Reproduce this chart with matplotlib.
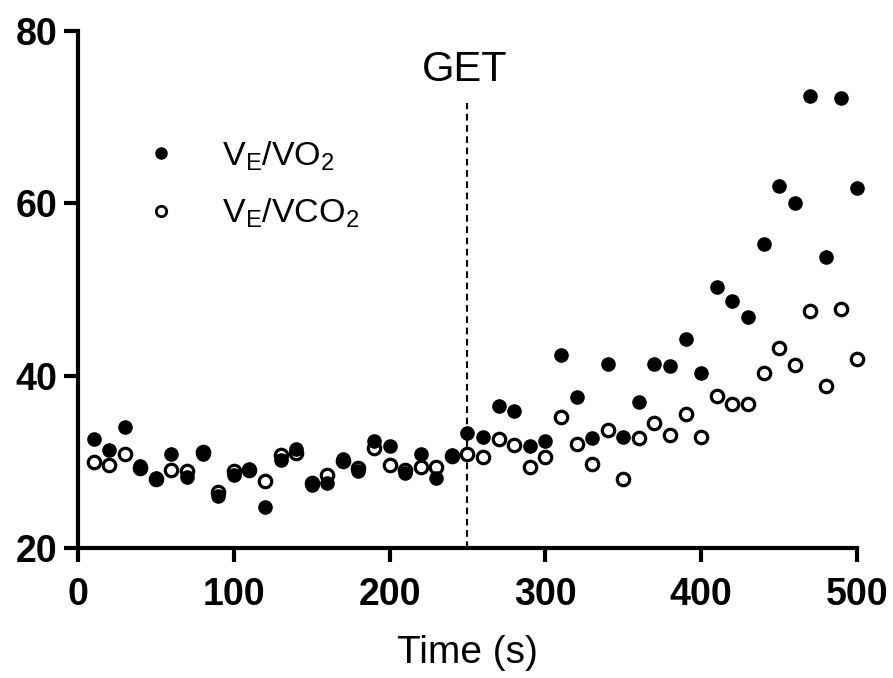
import numpy as np
import matplotlib.pyplot as plt
from matplotlib.lines import Line2D

plt.rcParams["font.family"] = ["Liberation Sans", "DejaVu Sans"]

# time points (s)
time = list(range(10, 501, 10))

# VE/VO2 (filled)
ve_vo2 = [32.7, 31.4, 34.0, 29.5, 28.1, 30.9, 28.2, 30.9, 26.0, 28.5,
          29.2, 24.8, 30.2, 31.5, 27.3, 27.5, 30.3, 28.9, 32.4, 31.8,
          28.7, 30.9, 28.1, 30.8, 33.4, 32.9, 36.5, 35.9, 31.8, 32.4,
          42.4, 37.5, 32.8, 41.4, 32.9, 36.9, 41.3, 41.1, 44.2, 40.3,
          50.3, 48.7, 46.8, 55.3, 62.0, 60.0, 72.4, 53.8, 72.2, 61.8]

# VE/VCO2 (open)
ve_vco2 = [30.0, 29.6, 30.9, 29.3, 28.0, 29.0, 28.9, 31.1, 26.5, 28.9,
           29.1, 27.8, 30.8, 31.0, 27.5, 28.5, 30.1, 29.3, 31.6, 29.6,
           29.0, 29.4, 29.4, 30.7, 30.9, 30.6, 32.6, 31.9, 29.4, 30.6,
           35.2, 32.1, 29.8, 33.7, 28.0, 32.8, 34.5, 33.1, 35.5, 32.9,
           37.6, 36.7, 36.7, 40.3, 43.2, 41.2, 47.5, 38.8, 47.7, 41.9]

GET_TIME = 250

fig = plt.figure(figsize=(8.93, 6.78), dpi=100)
ax = fig.add_axes([0.0873, 0.1917, 0.8724, 0.7626])

ax.scatter(time, ve_vco2, s=80, facecolor="white", edgecolor="black",
           linewidth=2.3, zorder=3, clip_on=False)
ax.scatter(time, ve_vo2, s=90, color="black", zorder=4, clip_on=False)

ax.plot([GET_TIME, GET_TIME], [20, 71.6], ls=(0, (3.2, 2.2)), color="black", lw=1.5, zorder=2)
ax.text(GET_TIME - 2, 75.5, "GET", ha="center", va="center", fontsize=30)

ax.set_xlim(0, 500)
ax.set_ylim(20, 80)
ax.set_xticks([0, 100, 200, 300, 400, 500])
ax.set_yticks([20, 40, 60, 80])
ax.set_xlabel("Time (s)", fontsize=28, labelpad=16)

for side in ["top", "right"]:
    ax.spines[side].set_visible(False)
for side in ["left", "bottom"]:
    ax.spines[side].set_linewidth(3)
ax.tick_params(axis="both", width=3, length=10, labelsize=27)
ax.tick_params(axis="x", pad=11)
ax.tick_params(axis="y", pad=5)
for lbl in ax.get_xticklabels() + ax.get_yticklabels():
    lbl.set_fontweight("bold")

handles = [
    Line2D([], [], ls="none", marker="o", ms=8, color="black"),
    Line2D([], [], ls="none", marker="o", ms=7.5, mfc="white", mec="black", mew=2),
]
ax.legend(handles, [r"V$_\mathregular{E}$/VO$_\mathregular{2}$",
                    r"V$_\mathregular{E}$/VCO$_\mathregular{2}$"],
          loc="upper left", bbox_to_anchor=(0.045, 0.85), frameon=False,
          fontsize=24.5, handletextpad=1.3, labelspacing=0.7, handlelength=1.0)

fig.savefig("out.png", dpi=100)
